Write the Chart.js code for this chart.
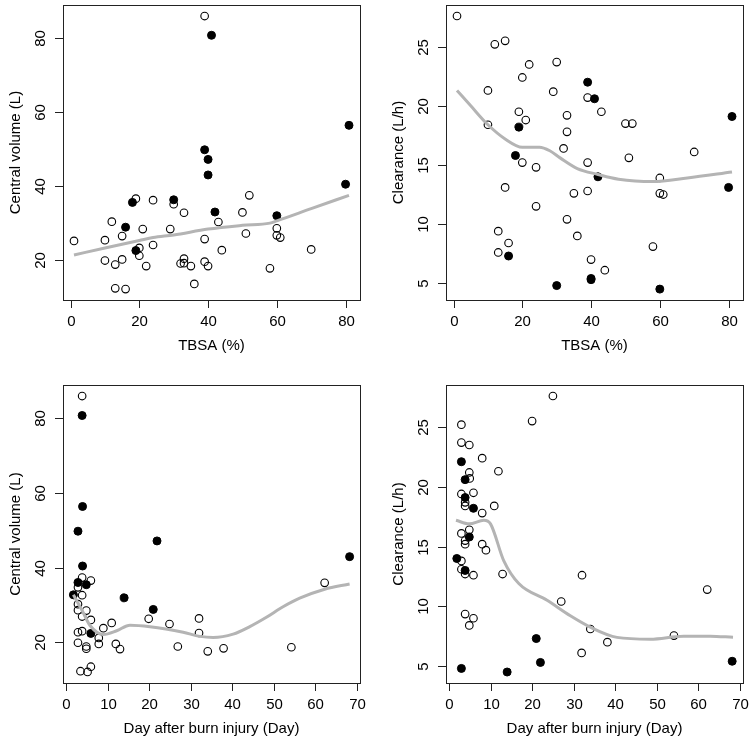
<!DOCTYPE html>
<html>
<head>
<meta charset="utf-8">
<script src="https://cdn.jsdelivr.net/npm/chart.js@4.4.1/dist/chart.umd.min.js"></script>
<style>
  body { margin: 0; background: #fff; }
  #wrap { position: relative; width: 750px; height: 741px; }
  canvas { position: absolute; }
</style>
</head>
<body>
<div id="wrap">
  <canvas id="tl" width="375" height="371" style="left:0;top:0"></canvas>
  <canvas id="tr" width="375" height="371" style="left:375px;top:0"></canvas>
  <canvas id="bl" width="375" height="370" style="left:0;top:371px"></canvas>
  <canvas id="br" width="375" height="370" style="left:375px;top:371px"></canvas>
</div>
<script>
// tick labels
const tbsaTicks = [0, 20, 40, 60, 80];
const dayTicks = [0, 10, 20, 30, 40, 50, 60, 70];
const volTicks = [20, 40, 60, 80];
const clTicks = [5, 10, 15, 20, 25];

// top left: TBSA vs central volume
const tlOpenX = [39, 19, 24, 30, 52, 33, 50, 12, 43, 21, 29, 60, 51, 60, 61, 1, 10, 15, 39, 24, 20, 20, 44, 70, 10, 15, 13, 22, 32, 33, 33, 35, 39, 40, 58, 13, 16, 36];
const tlOpenY = [85.8, 36.5, 36.1, 35, 37.4, 32.7, 32.8, 30.3, 30.2, 28.3, 28.3, 28.5, 27.1, 26.6, 26, 25.1, 25.3, 26.4, 25.6, 24, 23.2, 21.1, 22.6, 22.8, 19.8, 20.1, 18.7, 18.3, 19, 20.3, 19.1, 18.3, 19.5, 18.3, 17.7, 12.3, 12.1, 13.5];
const tlFillX = [41, 81, 39, 40, 40, 80, 18, 30, 42, 60, 16, 19];
const tlFillY = [80.6, 56.3, 49.7, 47.1, 42.9, 40.4, 35.5, 36.2, 32.9, 31.9, 28.8, 22.5];
const tlFitX = [1, 10, 20, 24, 30, 40, 50, 58, 60, 70, 81];
const tlFitY = [21.3, 23.2, 25.2, 26.0, 26.7, 28.3, 29.3, 29.9, 30.5, 33.8, 37.4];

// top right: TBSA vs clearance
const trOpenX = [1, 12, 15, 22, 30, 20, 10, 29, 39, 19, 43, 33, 21, 10, 50, 52, 33, 32, 70, 20, 39, 51, 24, 60, 15, 35, 39, 60, 61, 24, 33, 13, 36, 16, 58, 13, 40, 44];
const trOpenY = [27.6, 25.2, 25.5, 23.5, 23.7, 22.4, 21.3, 21.2, 20.7, 19.5, 19.5, 19.2, 18.8, 18.4, 18.5, 18.5, 17.8, 16.4, 16.1, 15.2, 15.2, 15.6, 14.8, 13.9, 13.1, 12.6, 12.8, 12.6, 12.5, 11.5, 10.4, 9.4, 9, 8.4, 8.1, 7.6, 7, 6.1];
const trFillX = [39, 41, 81, 19, 18, 42, 80, 16, 40, 40, 30, 60];
const trFillY = [22, 20.6, 19.1, 18.2, 15.8, 14, 13.1, 7.3, 5.4, 5.3, 4.8, 4.5];
const trFitX = [1, 5, 10, 15, 20, 25, 28, 31, 36, 42, 48, 58, 68, 81];
const trFitY = [21.3, 20.0, 18.4, 17.2, 16.5, 16.5, 16.2, 15.6, 14.7, 14.2, 13.8, 13.6, 13.9, 14.4];

// bottom left: day vs central volume
const blOpenX = [3.9, 3.9, 6, 62.2, 2.9, 3.9, 2.9, 2.9, 4.9, 3.9, 6, 19.9, 32, 24.9, 11, 9, 3.9, 2.9, 32, 7.9, 7.9, 2.9, 4.9, 4.9, 12, 13, 26.9, 34.1, 37.9, 54.2, 3.5, 5.2, 6];
const blOpenY = [85.8, 37.3, 36.5, 35.9, 34.7, 32.6, 30.2, 28.6, 28.5, 26.9, 26, 26.3, 26.4, 24.9, 25.2, 23.8, 23, 22.7, 22.5, 21.2, 19.6, 19.9, 18.9, 18.3, 19.6, 18.2, 18.9, 17.6, 18.4, 18.7, 12.3, 12.1, 13.5];
const blFillX = [3.9, 4, 2.9, 21.9, 68.2, 4, 2.9, 4.9, 1.8, 14, 21, 6];
const blFillY = [80.6, 56.3, 49.7, 47.1, 42.9, 40.4, 36, 35.4, 32.7, 31.9, 28.8, 22.4];
const blFitX = [1.8, 3.9, 5.8, 9, 12.2, 15.4, 20.2, 28.2, 32.2, 35.4, 40.2, 44.2, 48.2, 52.2, 56.2, 62.2, 68.2];
const blFitY = [32.7, 28.5, 24.5, 22.1, 23.1, 24.6, 24.2, 22.7, 21.6, 21.3, 22.2, 24.2, 26.7, 29.5, 31.8, 34.2, 35.6];

// bottom right: day vs clearance
const brOpenX = [3, 3, 4.9, 8, 11.9, 4.9, 5, 3, 5.9, 3.9, 3.9, 8, 10.9, 3, 4.9, 3.9, 3.9, 8, 8.9, 3, 3, 3.9, 5.9, 12.9, 3.9, 5.9, 4.9, 27, 20, 25, 32, 62.1, 34, 38.1, 31.9, 54.1];
const brOpenY = [25.2, 23.7, 23.5, 22.4, 21.3, 21.2, 20.7, 19.4, 19.5, 18.7, 18.4, 17.8, 18.4, 16.1, 16.4, 15.5, 15.2, 15.2, 14.7, 13.8, 13.1, 12.7, 12.6, 12.7, 9.35, 9.0, 8.4, 10.4, 25.5, 27.6, 12.6, 11.4, 8.1, 7.0, 6.1, 7.55];
const brFillX = [3, 3.9, 3.9, 5.9, 4.9, 1.9, 3.9, 3, 14, 21, 22, 68.1];
const brFillY = [22.1, 20.6, 19.1, 18.2, 15.8, 14.0, 13.0, 4.8, 4.5, 7.3, 5.3, 5.4];
const brFitX = [1.7, 4.9, 8.4, 10, 13.2, 16.8, 23.6, 29.2, 34, 40.4, 48.4, 56.4, 62.8, 68.3];
const brFitY = [17.2, 16.9, 17.2, 16.9, 13.8, 11.9, 10.5, 9.2, 8.25, 7.4, 7.25, 7.5, 7.5, 7.4];

const FONT = '15px "Liberation Sans", Arial, sans-serif';

function pts(xs, ys) {
    return xs.map(function(x, i) { return { x: x, y: ys[i] }; });
}

// draws the R style box, ticks and titles from the chart's own scales
const rAxes = {
    id: 'rAxes',
    afterDraw: function(chart, args, opts) {
        const ctx = chart.ctx;
        const a = chart.chartArea;
        const xs = chart.scales.x, ys = chart.scales.y;
        ctx.save();
        ctx.strokeStyle = '#222';
        ctx.lineWidth = 1;
        ctx.strokeRect(Math.round(a.left) + 0.5, Math.round(a.top) + 0.5,
            Math.round(a.right - a.left), Math.round(a.bottom - a.top));
        ctx.fillStyle = '#000';
        ctx.font = FONT;
        ctx.textAlign = 'center';
        ctx.textBaseline = 'middle';
        opts.xTicks.forEach(function(v) {
            const px = Math.round(xs.getPixelForValue(v)) + 0.5;
            ctx.beginPath();
            ctx.moveTo(px, a.bottom);
            ctx.lineTo(px, a.bottom + 8);
            ctx.stroke();
            ctx.fillText(String(v), px, a.bottom + 22);
        });
        opts.yTicks.forEach(function(v) {
            const py = Math.round(ys.getPixelForValue(v)) + 0.5;
            ctx.beginPath();
            ctx.moveTo(a.left, py);
            ctx.lineTo(a.left - 8, py);
            ctx.stroke();
            ctx.save();
            ctx.translate(a.left - 22, py);
            ctx.rotate(-Math.PI / 2);
            ctx.fillText(String(v), 0, 0);
            ctx.restore();
        });
        ctx.fillText(opts.xTitle, (a.left + a.right) / 2, a.bottom + 46);
        ctx.save();
        ctx.translate(a.left - 47, (a.top + a.bottom) / 2);
        ctx.rotate(-Math.PI / 2);
        ctx.fillText(opts.yTitle, 0, 0);
        ctx.restore();
        ctx.restore();
    }
};

function makePanel(id, openX, openY, fillX, fillY, fitX, fitY, cfg) {
    const ctx = document.getElementById(id).getContext('2d');
    return new Chart(ctx, {
        type: 'scatter',
        data: {
            datasets: [{
                data: pts(fitX, fitY),
                showLine: true,
                borderColor: '#b4b4b4',
                borderWidth: 3,
                pointRadius: 0,
                cubicInterpolationMode: 'monotone',
                fill: false
            },
            {
                data: pts(fillX, fillY),
                pointRadius: 4,
                borderWidth: 1,
                backgroundColor: '#000',
                borderColor: '#000'
            },
            {
                data: pts(openX, openY),
                pointRadius: 3.8,
                borderWidth: 1.1,
                backgroundColor: 'rgba(0,0,0,0)',
                borderColor: '#000'
            }]
        },
        options: {
            responsive: false,
            animation: false,
            devicePixelRatio: 1,
            layout: { padding: cfg.pad },
            scales: {
                x: { type: 'linear', display: false, min: cfg.xMin, max: cfg.xMax },
                y: { type: 'linear', display: false, min: cfg.yMin, max: cfg.yMax }
            },
            plugins: {
                legend: { display: false },
                tooltip: { enabled: false },
                rAxes: { xTicks: cfg.xTicks, yTicks: cfg.yTicks, xTitle: cfg.xTitle, yTitle: cfg.yTitle }
            }
        },
        plugins: [rAxes]
    });
}

makePanel('tl', tlOpenX, tlOpenY, tlFillX, tlFillY, tlFitX, tlFitY, {
    pad: { left: 63, right: 15, top: 2, bottom: 71 },
    xMin: -2.2, xMax: 84.2, yMin: 9.15, yMax: 88.75,
    xTicks: tbsaTicks, yTicks: volTicks, xTitle: 'TBSA (%)', yTitle: 'Central volume (L)'
});
makePanel('tr', trOpenX, trOpenY, trFillX, trFillY, trFitX, trFitY, {
    pad: { left: 71, right: 7, top: 2, bottom: 71 },
    xMin: -2.2, xMax: 84.2, yMin: 3.58, yMax: 28.52,
    xTicks: tbsaTicks, yTicks: clTicks, xTitle: 'TBSA (%)', yTitle: 'Clearance (L/h)'
});
makePanel('bl', blOpenX, blOpenY, blFillX, blFillY, blFitX, blFitY, {
    pad: { left: 63, right: 15, top: 14, bottom: 58 },
    xMin: -0.7, xMax: 70.7, yMin: 9.15, yMax: 88.75,
    xTicks: dayTicks, yTicks: volTicks, xTitle: 'Day after burn injury (Day)', yTitle: 'Central volume (L)'
});
makePanel('br', brOpenX, brOpenY, brFillX, brFillY, brFitX, brFitY, {
    pad: { left: 71, right: 7, top: 14, bottom: 58 },
    xMin: -0.7, xMax: 70.7, yMin: 3.58, yMax: 28.52,
    xTicks: dayTicks, yTicks: clTicks, xTitle: 'Day after burn injury (Day)', yTitle: 'Clearance (L/h)'
});
</script>
</body>
</html>
